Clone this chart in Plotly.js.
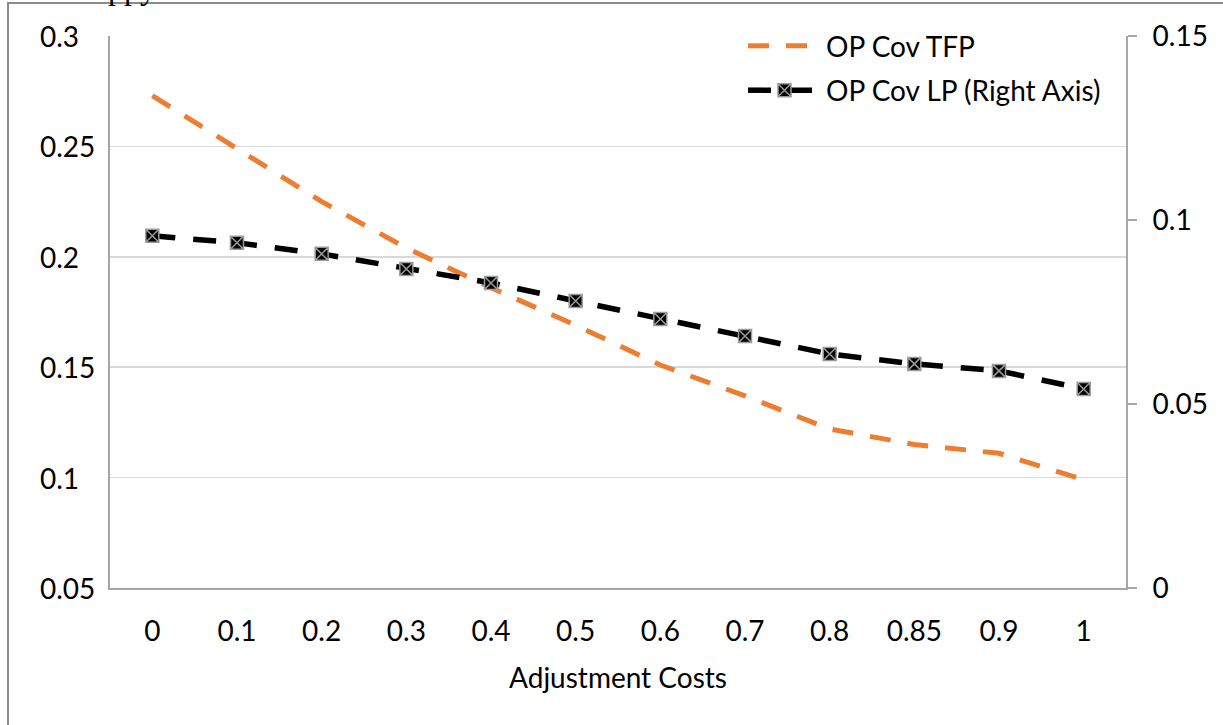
<!DOCTYPE html>
<html>
<head>
<meta charset="utf-8">
<script src="https://cdn.plot.ly/plotly-3.0.1.min.js"></script>
<style>
  html, body { margin: 0; padding: 0; background: #fff; overflow: hidden; }
  #wrap { position: relative; width: 1223px; height: 725px; overflow: hidden; }
  #chart { position: absolute; left: 0; top: 0; width: 1223px; height: 725px; }
  #frame { position: absolute; left: 7px; top: 2px; width: 1300px; height: 800px;
           border-left: 2px solid #8c8c8c; border-top: 2px solid #8c8c8c; pointer-events: none; z-index: 5; }
  #frag { position: absolute; left: 108px; top: -28px; font-family: "Liberation Serif", serif;
          font-size: 32px; line-height: 1; color: #000; z-index: 6; white-space: nowrap; }
</style>
</head>
<body>
<div id="wrap">
  <div id="chart"></div>
  <div id="frame"></div>
  <div id="frag">ppy</div>
</div>
<script>
// Categories (adjustment costs)
const categories = ["0", "0.1", "0.2", "0.3", "0.4", "0.5", "0.6", "0.7", "0.8", "0.85", "0.9", "1"];
// OP Cov TFP (left axis)
const opCovTFP = [0.273, 0.249, 0.225, 0.204, 0.186, 0.169, 0.151, 0.137, 0.122, 0.115, 0.111, 0.099];
// OP Cov LP (right axis)
const opCovLP = [0.0957, 0.0938, 0.0908, 0.0867, 0.0829, 0.0780, 0.0731, 0.0685, 0.0636, 0.0609, 0.0590, 0.0541];
// Tick values
const leftTicks = [0.05, 0.1, 0.15, 0.2, 0.25, 0.3];
const leftTickText = ["0.05", "0.1", "0.15", "0.2", "0.25", "0.3"];
const rightTicks = [0, 0.05, 0.1, 0.15];
const rightTickText = ["0", "0.05", "0.1", "0.15"];

const FONT = "Lato, Open Sans, sans-serif";
const FS = 28;

const W = 1223, H = 725;
const mL = 30, mR = 97, mT = 36, mB = 137;
const plotW = W - mL - mR;
const domStart = (110 - mL) / plotW;

const traces = [
  {
    x: categories, y: opCovTFP, name: "OP Cov TFP", type: "scatter", mode: "lines",
    line: { color: "#ED7D31", width: 5, dash: "21px,17px" },
    yaxis: "y", legendgroup: "a"
  },
  {
    x: categories, y: opCovLP, name: "OP Cov LP (Right Axis)", type: "scatter", mode: "lines+markers",
    line: { color: "#000000", width: 5.5, dash: "23px,18px" },
    marker: { symbol: "square-x", size: 13, color: "#000000", line: { color: "#9a9a9a", width: 1.5 } },
    yaxis: "y2", legendgroup: "b"
  }
];

// left-aligned left-axis tick labels, placed at the tick values through the y scale
const leftLabels = leftTicks.map((v, i) => ({
  xref: "paper", yref: "y", x: 0, y: v, xanchor: "left", yanchor: "middle",
  xshift: 8, text: leftTickText[i], showarrow: false,
  font: { family: FONT, size: FS, color: "#000" }
}));

const layout = {
  width: W, height: H,
  margin: { l: mL, r: mR, t: mT, b: mB },
  paper_bgcolor: "rgba(0,0,0,0)",
  plot_bgcolor: "#ffffff",
  font: { family: FONT, size: FS, color: "#000" },
  showlegend: true,
  legend: {
    x: (743 - 110) / 1016 * (1 - domStart) + domStart, xanchor: "left",
    y: 1.027, yanchor: "top",
    bgcolor: "#ffffff", borderwidth: 0,
    font: { family: FONT, size: FS, color: "#000" },
    itemwidth: 73, traceorder: "grouped", tracegroupgap: 5
  },
  annotations: leftLabels,
  xaxis: {
    type: "category", domain: [domStart, 1], range: [-0.5, 11.5],
    showline: true, linecolor: "#a6a6a6", linewidth: 2,
    showgrid: false, zeroline: false, ticks: "",
    ticklabelstandoff: 17,
    tickfont: { family: FONT, size: FS },
    title: { text: "Adjustment Costs", font: { family: FONT, size: FS }, standoff: 23 }
  },
  yaxis: {
    range: [0.05, 0.3], tickvals: leftTicks, ticktext: leftTickText,
    showticklabels: false, showline: true, linecolor: "#a6a6a6", linewidth: 2,
    showgrid: true, gridcolor: "#d9d9d9", gridwidth: 1.5, zeroline: false, ticks: ""
  },
  yaxis2: {
    range: [0, 0.15], tickvals: rightTicks, ticktext: rightTickText,
    overlaying: "y", side: "right", anchor: "x",
    showline: true, linecolor: "#a6a6a6", linewidth: 2,
    ticks: "outside", ticklen: 9, tickwidth: 2, tickcolor: "#a6a6a6",
    ticklabelstandoff: 10,
    showgrid: false, zeroline: false,
    tickfont: { family: FONT, size: FS }
  }
};

Plotly.newPlot("chart", traces, layout, { displayModeBar: false, staticPlot: true });
</script>
</body>
</html>
